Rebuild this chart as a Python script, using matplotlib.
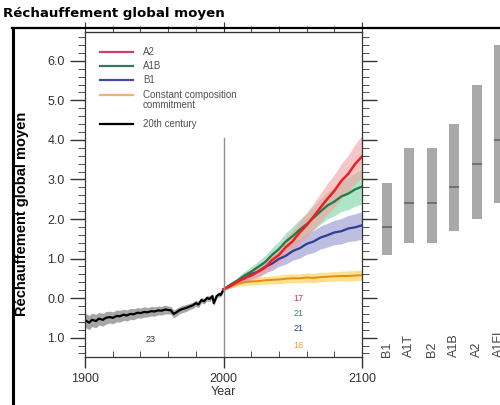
import numpy as np
import matplotlib
matplotlib.use("Agg")
import matplotlib.pyplot as plt
from matplotlib.lines import Line2D
from matplotlib.ticker import MultipleLocator, FixedFormatter, FixedLocator

plt.rcParams['font.family'] = ['Liberation Sans', 'DejaVu Sans']

# 20th century observed/simulated mean
hist_years = [1900, 1903, 1905, 1908, 1910, 1913, 1915, 1918, 1920, 1923, 1925, 1928,
              1930, 1933, 1935, 1938, 1940, 1943, 1945, 1948, 1950, 1953, 1955, 1958,
              1960, 1962, 1964, 1966, 1968, 1970, 1973, 1975, 1978, 1980, 1982, 1984,
              1986, 1988, 1990, 1992, 1993, 1995, 1997, 1998, 2000]
hist_vals = [-0.56, -0.62, -0.55, -0.58, -0.52, -0.55, -0.50, -0.48, -0.50, -0.45, -0.46, -0.42,
             -0.44, -0.40, -0.41, -0.37, -0.38, -0.35, -0.36, -0.33, -0.34, -0.31, -0.32, -0.29,
             -0.30, -0.31, -0.40, -0.36, -0.31, -0.28, -0.25, -0.22, -0.18, -0.13, -0.16, -0.05,
             -0.08, 0.00, -0.02, 0.05, -0.13, 0.05, 0.10, 0.08, 0.22]
hist_spread = [0.18, 0.18, 0.17, 0.17, 0.16, 0.16, 0.16, 0.15, 0.15, 0.15, 0.15, 0.14,
               0.14, 0.14, 0.14, 0.13, 0.13, 0.13, 0.12, 0.12, 0.12, 0.11, 0.11, 0.11,
               0.10, 0.10, 0.10, 0.10, 0.09, 0.09, 0.09, 0.08, 0.08, 0.08, 0.08, 0.07,
               0.07, 0.07, 0.07, 0.06, 0.06, 0.06, 0.06, 0.05, 0.05]

# 21st century scenarios (5-year steps)
scen_years = [2000, 2005, 2010, 2015, 2020, 2025, 2030, 2035, 2040, 2045, 2050,
              2055, 2060, 2065, 2070, 2075, 2080, 2085, 2090, 2095, 2100]
a2_vals = [0.22, 0.32, 0.41, 0.51, 0.57, 0.67, 0.77, 0.96, 1.09, 1.29, 1.44,
           1.66, 1.84, 2.06, 2.29, 2.51, 2.71, 2.96, 3.14, 3.39, 3.58]
a2_spread = [0.03, 0.06, 0.08, 0.1, 0.12, 0.14, 0.16, 0.19, 0.21, 0.24, 0.26,
             0.29, 0.31, 0.34, 0.36, 0.39, 0.41, 0.44, 0.47, 0.5, 0.53]
a1b_vals = [0.22, 0.34, 0.44, 0.57, 0.67, 0.79, 0.91, 1.09, 1.24, 1.43, 1.57,
            1.73, 1.87, 2.03, 2.19, 2.34, 2.44, 2.57, 2.64, 2.75, 2.82]
a1b_spread = [0.03, 0.06, 0.08, 0.1, 0.12, 0.14, 0.16, 0.18, 0.2, 0.22, 0.24,
              0.26, 0.28, 0.3, 0.32, 0.34, 0.36, 0.38, 0.4, 0.42, 0.44]
b1_vals = [0.22, 0.31, 0.43, 0.49, 0.61, 0.67, 0.79, 0.87, 0.99, 1.07, 1.19,
           1.26, 1.37, 1.43, 1.53, 1.59, 1.66, 1.69, 1.76, 1.79, 1.84]
b1_spread = [0.03, 0.05, 0.07, 0.09, 0.11, 0.13, 0.15, 0.17, 0.19, 0.21, 0.23,
             0.25, 0.26, 0.28, 0.29, 0.3, 0.31, 0.32, 0.33, 0.34, 0.35]
commit_vals = [0.22, 0.30, 0.36, 0.40, 0.42, 0.43, 0.45, 0.46, 0.47, 0.49, 0.50,
               0.50, 0.52, 0.51, 0.53, 0.54, 0.55, 0.56, 0.56, 0.57, 0.58]
commit_spread = [0.03, 0.05, 0.07, 0.08, 0.09, 0.1, 0.1, 0.1, 0.11, 0.11, 0.11,
                 0.11, 0.12, 0.12, 0.12, 0.12, 0.12, 0.12, 0.13, 0.13, 0.13]

# model counts
n_hist = "23"
n_scen = ["17", "21", "21", "16"]

# likely ranges at 2090-2099
bar_labels = ["B1", "A1T", "B2", "A1B", "A2", "A1FI"]
bar_best = [1.8, 2.4, 2.4, 2.8, 3.4, 4.0]
bar_low = [1.1, 1.4, 1.4, 1.7, 2.0, 2.4]
bar_high = [2.9, 3.8, 3.8, 4.4, 5.4, 6.4]

W, H = 500, 405
fig = plt.figure(figsize=(W / 100, H / 100), dpi=100)

# frame around the panel
fig.add_artist(Line2D([13 / W, 13 / W], [0, 1 - 28 / H], color="black", lw=2.2))
fig.add_artist(Line2D([12 / W, 1], [1 - 28 / H, 1 - 28 / H], color="black", lw=1.6))

fig.text(3 / W, 1 - 14 / H, "Réchauffement global moyen", family="DejaVu Sans",
         fontweight="bold", fontsize=9.6, va="center", ha="left")

ax = fig.add_axes([85 / W, 1 - 357 / H, 277 / W, 325 / H])
ax.set_xlim(1900, 2100)
ax.set_ylim(-1.49, 6.73)

ax.fill_between(hist_years, np.array(hist_vals) - hist_spread,
                np.array(hist_vals) + hist_spread, color="#a6a6a6", lw=0)
ax.plot(hist_years, hist_vals, color="black", lw=1.6)

ax.fill_between(scen_years, np.array(commit_vals) - commit_spread,
                np.array(commit_vals) + commit_spread, color="#f7d86a", alpha=0.75, lw=0)
ax.fill_between(scen_years, np.array(b1_vals) - b1_spread,
                np.array(b1_vals) + b1_spread, color="#a8a8da", alpha=0.75, lw=0)
ax.fill_between(scen_years, np.array(a1b_vals) - a1b_spread,
                np.array(a1b_vals) + a1b_spread, color="#78d2a2", alpha=0.6, lw=0)
ax.fill_between(scen_years, np.array(a2_vals) - a2_spread,
                np.array(a2_vals) + a2_spread, color="#f3a0a0", alpha=0.6, lw=0)
ax.plot(scen_years, commit_vals, color="#e88a1a", lw=1.4)
ax.plot(scen_years, b1_vals, color="#2c3f94", lw=1.6)
ax.plot(scen_years, a1b_vals, color="#1f7a45", lw=1.6)
ax.plot(scen_years, a2_vals, color="#f01e22", lw=1.8)

ax.plot([2000, 2000], [-1.49, 4.05], color="#909090", lw=1.0)

ax.text(1947, -1.06, n_hist, fontsize=6.5, color="#333333", ha="center", va="center")
for txt, col, yy in zip(n_scen, ["#d03050", "#2a8a6a", "#2c3f94", "#f0a030"],
                        [0.0, -0.4, -0.78, -1.19]):
    ax.text(2054, yy, txt, fontsize=6.5, color=col, ha="center", va="center")

# legend
leg_items = [("A2", "#d0406a", 52), ("A1B", "#2f7a5c", 66), ("B1", "#4848a8", 80),
             ("Constant composition\ncommitment", "#f2b07a", 95), ("20th century", "black", 124)]
for lab, col, py in leg_items:
    yf = (357 - py) / 325
    ax.plot([15 / 277, 48 / 277], [yf, yf], color=col, lw=1.6, transform=ax.transAxes)
    va = "top" if "\n" in lab else "center"
    ax.text(58 / 277, yf + (0.014 if va == "top" else 0), lab, fontsize=7,
            color="#505050", transform=ax.transAxes, va=va, ha="left", linespacing=1.0)

# axis styling
ax.yaxis.set_major_locator(FixedLocator([-1, 0, 1, 2, 3, 4, 5, 6]))
ax.yaxis.set_major_formatter(FixedFormatter(["1.0", "0.0", "1.0", "2.0", "3.0", "4.0", "5.0", "6.0"]))
ax.yaxis.set_minor_locator(MultipleLocator(0.2))
ax.xaxis.set_major_locator(FixedLocator([1900, 2000, 2100]))
ax.xaxis.set_minor_locator(MultipleLocator(20))
ax.tick_params(axis="y", which="both", left=True, right=True, direction="out",
               labelsize=9, labelcolor="#333333", color="#333333")
ax.tick_params(axis="y", which="major", length=11, width=1.0)
ax.tick_params(axis="y", which="minor", length=5, width=0.6)
ax.tick_params(axis="x", which="major", direction="out", length=8, width=1.0,
               labelsize=9, labelcolor="#333333", color="#333333")
ax.tick_params(axis="x", which="minor", direction="in", length=4, width=0.6, color="#333333")
for s in ax.spines.values():
    s.set_color("#333333")
    s.set_linewidth(0.9)

top = ax.secondary_xaxis("top")
top.xaxis.set_major_locator(FixedLocator([1900, 2000, 2100]))
top.xaxis.set_minor_locator(MultipleLocator(20))
top.tick_params(which="major", direction="out", length=7, labeltop=False, color="#333333")
top.tick_params(which="minor", direction="out", length=4, width=0.6, color="#333333")
top.spines["top"].set_color("#333333")

ax.set_xlabel("Year", fontsize=9, color="#333333", labelpad=1)
fig.text(22 / W, 1 - 214 / H, "Réchauffement global moyen", rotation=90, fontsize=10.5,
         fontweight="bold", ha="center", va="center")

# bar panel on the right
bx = fig.add_axes([362 / W, 1 - 357 / H, 150 / W, 325 / H])
bx.set_ylim(ax.get_ylim())
bx.set_xlim(-25 / 22.4, -25 / 22.4 + 150 / 22.4)
bx.axis("off")
pos = np.arange(len(bar_labels))
bx.bar(pos, np.array(bar_high) - np.array(bar_low), bottom=bar_low, width=0.45,
       color="#a9a9a9", edgecolor="none")
bx.hlines(bar_best, pos - 0.225, pos + 0.225, color="#666666", lw=1.2)
for p, lab in zip(pos, bar_labels):
    bx.text(p, -1.5, lab, rotation=90, fontsize=9, color="#444444", ha="center", va="bottom")

fig.savefig("out.png", dpi=100)
